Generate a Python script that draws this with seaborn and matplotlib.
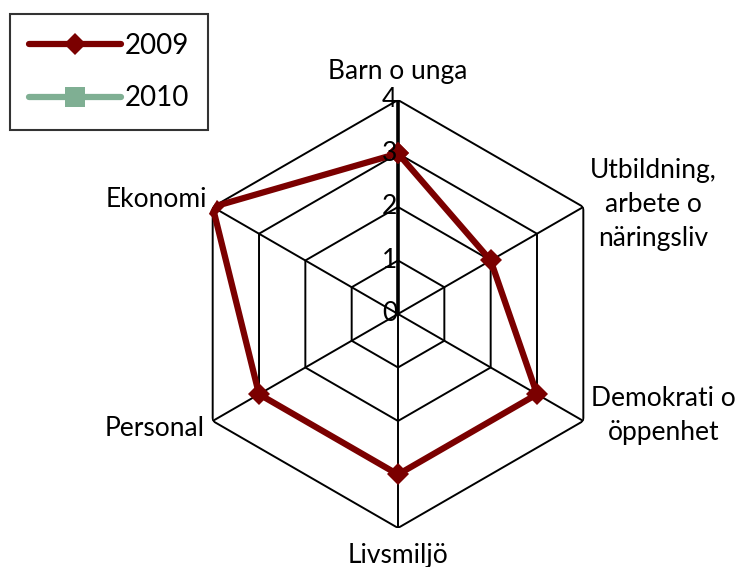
import numpy as np
import pandas as pd
import matplotlib
matplotlib.use("Agg")
import matplotlib.pyplot as plt
from matplotlib.lines import Line2D
import seaborn as sns

categories = ["Barn o unga", "Utbildning,\narbete o\nnäringsliv", "Demokrati o\nöppenhet",
              "Livsmiljö", "Personal", "Ekonomi"]
values_2009 = [3, 2, 3, 3, 3, 4]
values_2010 = [np.nan] * 6
series_names = ["2009", "2010"]
tick_values = [0, 1, 2, 3, 4]

sns.set_style("white")
plt.rcParams["font.family"] = ["Lato", "DejaVu Sans"]
plt.rcParams["text.color"] = "black"

n = len(categories)
angles = np.arange(n) * 2 * np.pi / n
closed_angles = np.append(angles, 2 * np.pi)

rows = []
for name, vals in zip(series_names, [values_2009, values_2010]):
    closed_vals = list(vals) + [vals[0]]
    for t, v in zip(closed_angles, closed_vals):
        rows.append({"theta": t, "value": v, "year": name})
df = pd.DataFrame(rows)

fig = plt.figure(figsize=(7.42, 5.67), dpi=100)
ax = fig.add_axes([0.248, 0.0688, 0.5768, 0.7549], projection="polar")
ax.set_theta_zero_location("N")
ax.set_theta_direction(-1)
ax.grid(False)
ax.spines["polar"].set_visible(False)

# hexagonal grid
for v in tick_values[1:]:
    ax.plot(closed_angles, [v] * (n + 1), color="black", lw=1.4, zorder=1)
for i, a in enumerate(angles):
    ax.plot([a, a], [0, 4], color="black", lw=2.6 if i == 0 else 1.4, zorder=1)

palette = {"2009": "#7B0000", "2010": "#7FAF93"}
markers = {"2009": "D", "2010": "s"}
sns.lineplot(data=df, x="theta", y="value", hue="year", style="year", sort=False,
             palette=palette, markers=markers, dashes=False, lw=4.5, markersize=11.5,
             markeredgewidth=0, ax=ax, legend=False, zorder=3)
ax.set_xlabel("")
ax.set_ylabel("")
ax.set_xticks([])
ax.set_yticks([])
ax.set_ylim(0, 4)

for v in tick_values:
    ax.annotate(str(v), xy=(0, v), xytext=(-1, 0), textcoords="offset pixels",
                ha="right", va="center", fontsize=19, color="black")

label_offsets = [(0, 28, "center", "center"), (70, 2, "center", "center"),
                 (80, 5, "center", "center"), (0, -28, "center", "center"),
                 (-8, -8, "right", "center"), (-6, 7, "right", "center")]
for a, lab, (dx, dy, ha, va) in zip(angles, categories, label_offsets):
    ax.annotate(lab, xy=(a, 4), xytext=(dx, dy), textcoords="offset pixels",
                ha=ha, va=va, fontsize=19, color="black", linespacing=1.45,
                annotation_clip=False)

# legend
handles = [Line2D([], [], color=palette[s], marker=markers[s], lw=4.5,
                  markersize=11 if s == "2009" else 14, markeredgewidth=0,
                  solid_capstyle="round") for s in series_names]
leg = fig.legend(handles, series_names, loc="upper left",
                 bbox_to_anchor=(10 / 742, 1 - 14 / 567), borderaxespad=0,
                 fontsize=20, frameon=True, fancybox=False, edgecolor="black",
                 labelcolor="black",
                 handlelength=3.3, labelspacing=0.95, borderpad=0.68,
                 handletextpad=0.15)
leg.get_frame().set_linewidth(1.5)

fig.savefig("out.png", dpi=100)
